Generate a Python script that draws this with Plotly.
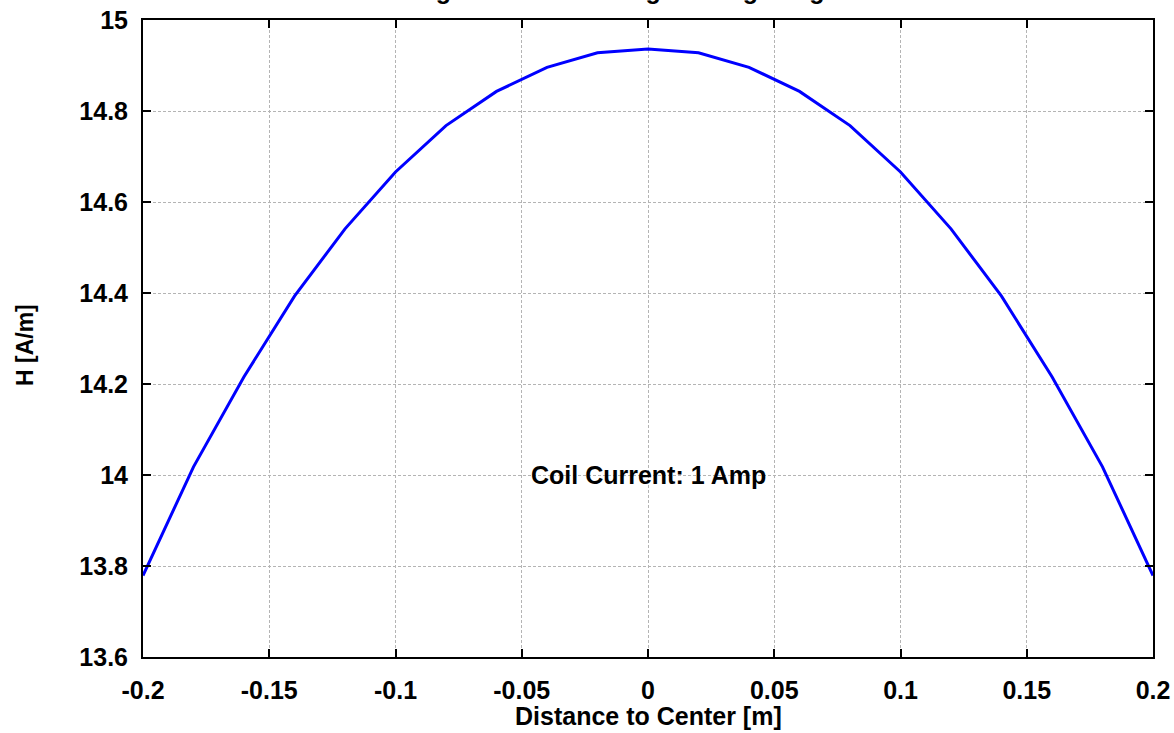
import plotly.graph_objects as go

# Data
distance = [-0.20, -0.18, -0.16, -0.14, -0.12, -0.10, -0.08, -0.06, -0.04, -0.02, 0.00,
            0.02, 0.04, 0.06, 0.08, 0.10, 0.12, 0.14, 0.16, 0.18, 0.20]
field_h = [13.779, 14.018, 14.216, 14.393, 14.541, 14.666, 14.768, 14.843, 14.896, 14.928, 14.936,
           14.928, 14.896, 14.843, 14.768, 14.666, 14.541, 14.393, 14.216, 14.018, 13.779]

x_tickvals = [-0.2, -0.15, -0.1, -0.05, 0, 0.05, 0.1, 0.15, 0.2]
x_ticktext = ["-0.2", "-0.15", "-0.1", "-0.05", "0", "0.05", "0.1", "0.15", "0.2"]
y_tickvals = [13.6, 13.8, 14.0, 14.2, 14.4, 14.6, 14.8, 15.0]
y_ticktext = ["13.6", "13.8", "14", "14.2", "14.4", "14.6", "14.8", "15"]

title_text = "Magnetic Field Strength along Length of Coil"
x_title = "Distance to Center [m]"
y_title = "H [A/m]"
note_text = "Coil Current: 1 Amp"

FONT = "Liberation Sans, Arial, sans-serif"
W, H = 1174, 733
L, R, T, B = 143, 21, 20, 76
pw, ph = W - L - R, H - T - B

fig = go.Figure()
fig.add_trace(go.Scatter(x=distance, y=field_h, mode="lines",
                         line=dict(color="#0000ff", width=3), showlegend=False))

axis_common = dict(
    showline=True, linecolor="black", linewidth=2, mirror="ticks",
    ticks="inside", ticklen=8, tickwidth=2, tickcolor="black",
    showgrid=True, gridcolor="#b4b4b4", gridwidth=1, griddash="3px,2px",
    zeroline=False, automargin=False,
    tickfont=dict(family=FONT, size=25, color="black", weight="bold"),
)

fig.update_xaxes(range=[-0.2, 0.2], tickvals=x_tickvals, ticktext=x_ticktext,
                 ticklabelstandoff=10, **axis_common)
fig.update_yaxes(range=[13.6, 15.0], tickvals=y_tickvals, ticktext=y_ticktext,
                 ticklabelstandoff=8, **axis_common)

# Title (mostly outside the top of the page)
fig.add_annotation(text="<b>" + title_text + "</b>", xref="paper", yref="paper",
                   x=(399 - L) / pw, y=1 + (T + 10) / ph, xanchor="left", yanchor="middle",
                   showarrow=False, font=dict(family=FONT, size=25, color="black"))

# Axis titles
fig.add_annotation(text="<b>" + x_title + "</b>", xref="paper", yref="paper",
                   x=0.5, y=-(716 - (T + ph)) / ph, xanchor="center", yanchor="middle",
                   showarrow=False, font=dict(family=FONT, size=25, color="black"))
fig.add_annotation(text="<b>" + y_title + "</b>", xref="paper", yref="paper",
                   x=-(L - 25) / pw, y=1 - (345 - T) / ph,
                   xanchor="center", yanchor="middle",
                   textangle=-90, showarrow=False,
                   font=dict(family=FONT, size=23, color="black"))

fig.add_annotation(text="<b>" + note_text + "</b>", x=0, y=14.0, xref="x", yref="y",
                   xanchor="center", yanchor="middle", showarrow=False,
                   font=dict(family=FONT, size=25, color="black"))

fig.update_layout(width=W, height=H, margin=dict(l=L, r=R, t=T, b=B, autoexpand=False),
                  paper_bgcolor="white", plot_bgcolor="white",
                  font=dict(family=FONT, color="black"))

fig.write_html("out.html", config={"displayModeBar": False},
               post_script="document.body.style.margin='0';document.body.style.overflow='hidden';")
